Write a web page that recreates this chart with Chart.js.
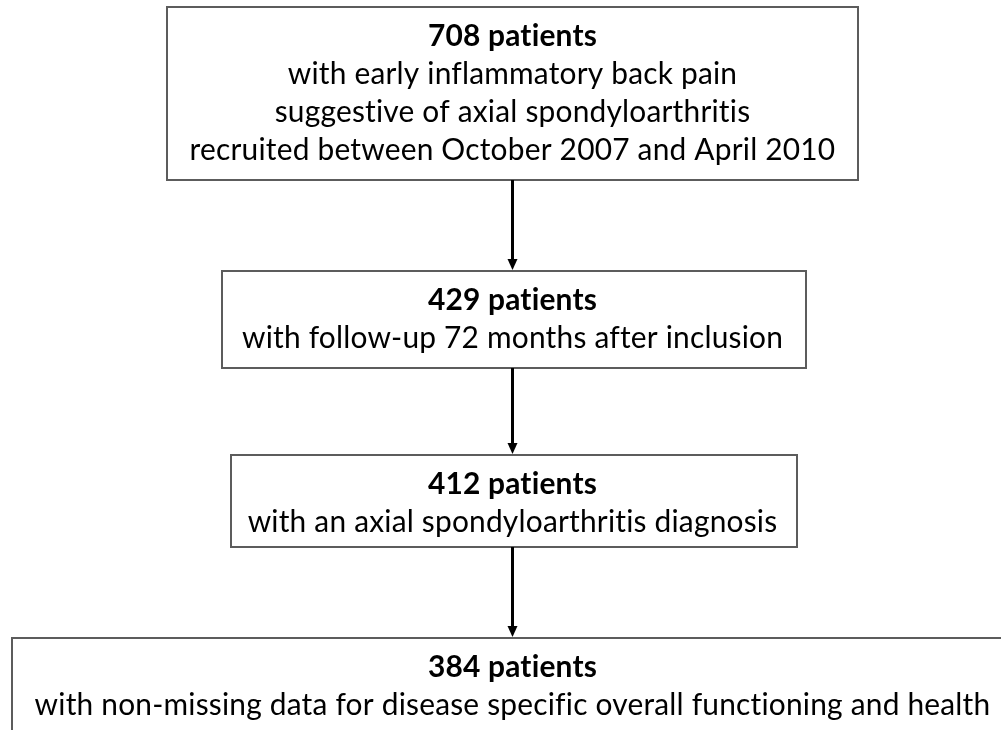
<!DOCTYPE html>
<html>
<head>
<meta charset="utf-8">
<script src="https://cdn.jsdelivr.net/npm/chart.js@4"></script>
<style>
  html, body { margin: 0; padding: 0; background: #fff; }
  #flow { display: block; }
</style>
</head>
<body>
<canvas id="flow" width="1001" height="730"></canvas>
<script>
// patient numbers at each step of the flow
var counts = [708, 429, 412, 384];
var headings = counts.map(function (n) { return n + ' patients'; });
var details = [
  ['with early inflammatory back pain',
   'suggestive of axial spondyloarthritis',
   'recruited between October 2007 and April 2010'],
  ['with follow-up 72 months after inclusion'],
  ['with an axial spondyloarthritis diagnosis'],
  ['with non-missing data for disease specific overall functioning and health']
];

// box placement, in axis units (same as the 1001x730 picture)
var layout = {
  left:   [167, 222, 231, 12],
  right:  [858, 806, 797, 1012],
  top:    [7, 271, 455, 638],
  bottom: [180, 368, 547, 745],
  midX: 512.5,
  lineGap: 38
};

var fontFamily = 'Lato, "Open Sans", sans-serif';

function setText(ctx, bold, size) {
  ctx.font = (bold ? 'bold ' : '') + size.toFixed(1) + 'px ' + fontFamily;
  // small spacing so no "ti" ligatures show up
  if ('letterSpacing' in ctx) ctx.letterSpacing = '0.2px';
  if ('textRendering' in ctx) ctx.textRendering = 'optimizeSpeed';
}

var flowPlugin = {
  id: 'flow',
  afterDraw: function (chart) {
    var ctx = chart.ctx;
    var xs = chart.scales.x, ys = chart.scales.y;

    // pick a font size so the long line of box 1 gets its width from the picture
    ctx.save();
    setText(ctx, false, 100);
    var w100 = ctx.measureText(details[0][2]).width;
    var size = 100 * 640 / w100;
    ctx.restore();

    for (var i = 0; i < counts.length; i++) {
      var l = xs.getPixelForValue(layout.left[i]);
      var r = xs.getPixelForValue(layout.right[i]);
      var t = ys.getPixelForValue(layout.top[i]);
      var b = ys.getPixelForValue(layout.bottom[i]);

      ctx.save();
      ctx.strokeStyle = '#5c5c5c';
      ctx.lineWidth = 2;
      ctx.strokeRect(l, t, r - l, b - t);
      ctx.restore();

      // text lines
      var lines = [headings[i]].concat(details[i]);
      var cx = xs.getPixelForValue(layout.midX);
      var first = ys.getPixelForValue(layout.top[i] + 29);
      ctx.save();
      ctx.fillStyle = '#000';
      ctx.textAlign = 'center';
      ctx.textBaseline = 'middle';
      for (var k = 0; k < lines.length; k++) {
        setText(ctx, k == 0, size);
        ctx.fillText(lines[k], cx, first + k * layout.lineGap);
      }
      ctx.restore();

      // arrow down to next box
      if (i < counts.length - 1) {
        var ax = xs.getPixelForValue(layout.midX);
        var y0 = b;
        var y1 = ys.getPixelForValue(layout.top[i + 1]);
        ctx.save();
        ctx.strokeStyle = '#000';
        ctx.fillStyle = '#000';
        ctx.lineWidth = 3;
        ctx.beginPath();
        ctx.moveTo(ax, y0);
        ctx.lineTo(ax, y1 - 10);
        ctx.stroke();
        ctx.beginPath();
        ctx.moveTo(ax - 5, y1 - 12);
        ctx.lineTo(ax + 5, y1 - 12);
        ctx.lineTo(ax, y1 - 1);
        ctx.closePath();
        ctx.fill();
        ctx.restore();
      }
    }
  }
};

var chart = new Chart(document.getElementById('flow'), {
  type: 'scatter',
  data: {
    datasets: [{
      label: 'steps',
      data: counts.map(function (n, i) {
        return { x: layout.midX, y: (layout.top[i] + layout.bottom[i]) / 2 };
      }),
      pointRadius: 0
    }]
  },
  options: {
    responsive: false,
    animation: false,
    layout: { padding: 0 },
    plugins: { legend: { display: false }, tooltip: { enabled: false } },
    scales: {
      x: { type: 'linear', min: 0, max: 1001, display: false },
      y: { type: 'linear', min: 0, max: 730, reverse: true, display: false }
    }
  },
  plugins: [flowPlugin]
});
</script>
</body>
</html>
